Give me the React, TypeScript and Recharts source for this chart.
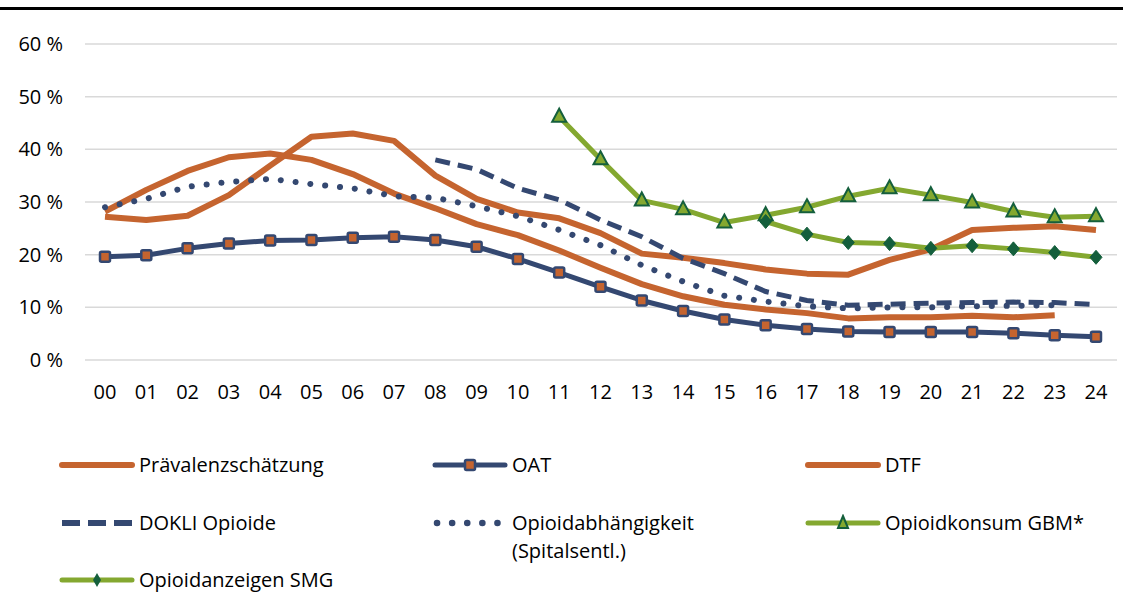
import React from 'react';
import { LineChart, Line, XAxis, YAxis, CartesianGrid } from 'recharts';

// Jahre (2000–2024)
const years = [
  '00', '01', '02', '03', '04', '05', '06', '07', '08', '09', '10', '11', '12',
  '13', '14', '15', '16', '17', '18', '19', '20', '21', '22', '23', '24',
];

// Anteile in %
const praevalenz = [
  28.2, 32.3, 35.9, 38.5, 39.2, 38.0, 35.3, 31.6, 28.8, 25.8, 23.7, 20.8, 17.5,
  14.4, 12.1, 10.5, 9.6, 8.9, 7.9, 8.1, 8.1, 8.4, 8.1, 8.5, null,
];
const oat = [
  19.6, 19.9, 21.2, 22.1, 22.7, 22.8, 23.2, 23.4, 22.8, 21.5, 19.2, 16.6, 13.9,
  11.3, 9.3, 7.7, 6.6, 5.9, 5.4, 5.3, 5.3, 5.3, 5.1, 4.7, 4.4,
];
const dtf = [
  27.2, 26.6, 27.4, 31.3, 36.9, 42.4, 43.0, 41.6, 35.0, 30.6, 28.0, 26.9, 24.1,
  20.2, 19.4, 18.4, 17.2, 16.4, 16.2, 19.0, 21.0, 24.7, 25.1, 25.4, 24.7,
];
const dokli = [
  null, null, null, null, null, null, null, null, 38.0, 36.2, 32.6, 30.4, 26.6,
  23.4, 19.3, 16.4, 13.0, 11.3, 10.4, 10.6, 10.8, 10.9, 11.0, 10.9, 10.5,
];
const abhaengigkeit = [
  29.0, 30.6, 32.9, 33.8, 34.4, 33.4, 32.6, 31.1, 30.8, 29.2, 27.3, 24.7, 21.8,
  18.0, 14.9, 12.2, 11.1, 10.2, 9.8, 10.0, 10.0, 10.2, 10.3, 10.4, null,
];
const gbm = [
  null, null, null, null, null, null, null, null, null, null, null, 46.2, 38.1,
  30.3, 28.6, 26.1, 27.5, 29.0, 31.1, 32.6, 31.3, 29.9, 28.2, 27.1, 27.3,
];
const smg = [
  null, null, null, null, null, null, null, null, null, null, null, null, null,
  null, null, null, 26.3, 23.9, 22.3, 22.1, 21.2, 21.7, 21.1, 20.4, 19.5,
];

const yTicks = [0, 10, 20, 30, 40, 50, 60];

const ORANGE = '#C5642F';
const NAVY = '#344871';
const GREEN = '#84A830';
const DKGREEN = '#145F3C';
const FONT = '"Open Sans", "Noto Sans", sans-serif';

const chartData = years.map((year, i) => ({
  year,
  praevalenz: praevalenz[i],
  oat: oat[i],
  dtf: dtf[i],
  dokli: dokli[i],
  abhaengigkeit: abhaengigkeit[i],
  gbm: gbm[i],
  smg: smg[i],
}));

// Marker
const SquareDot = (props: any) => {
  const { cx, cy, value, index } = props;
  if (cx == null || cy == null || value == null) return <g key={`sq-${index}`} />;
  return (
    <rect key={`sq-${index}`} x={cx - 5} y={cy - 5} width={10} height={10} rx={1.5}
      fill={ORANGE} stroke={NAVY} strokeWidth={2.5} />
  );
};

const TriangleDot = (props: any) => {
  const { cx, cy, value, index } = props;
  if (cx == null || cy == null || value == null) return <g key={`tr-${index}`} />;
  return (
    <polygon key={`tr-${index}`}
      points={`${cx},${cy - 8} ${cx + 7},${cy + 5} ${cx - 7},${cy + 5}`}
      fill={GREEN} stroke={DKGREEN} strokeWidth={2} strokeLinejoin="miter" />
  );
};

const DiamondDot = (props: any) => {
  const { cx, cy, value, index } = props;
  if (cx == null || cy == null || value == null) return <g key={`di-${index}`} />;
  return (
    <polygon key={`di-${index}`}
      points={`${cx},${cy - 7} ${cx + 6},${cy} ${cx},${cy + 7} ${cx - 6},${cy}`}
      fill={DKGREEN} stroke={DKGREEN} strokeWidth={1} />
  );
};

// Legenden-Symbole
const LegendIcon = ({ kind }: { kind: string }) => {
  const w = 76;
  const y = 9;
  let content: React.ReactNode = null;
  if (kind === 'orange') {
    content = <line x1={3} y1={y} x2={w - 3} y2={y} stroke={ORANGE} strokeWidth={6} strokeLinecap="round" />;
  } else if (kind === 'oat') {
    content = (
      <g>
        <line x1={3} y1={y} x2={w - 3} y2={y} stroke={NAVY} strokeWidth={5} strokeLinecap="round" />
        <rect x={w / 2 - 5} y={y - 5} width={10} height={10} rx={1.5} fill={ORANGE} stroke={NAVY} strokeWidth={2.5} />
      </g>
    );
  } else if (kind === 'dashed') {
    content = <line x1={3} y1={y} x2={w - 3} y2={y} stroke={NAVY} strokeWidth={6} strokeDasharray="18 8" />;
  } else if (kind === 'dotted') {
    content = <line x1={5} y1={y} x2={w - 3} y2={y} stroke={NAVY} strokeWidth={6.5} strokeLinecap="round" strokeDasharray="0.1 15" />;
  } else if (kind === 'gbm') {
    content = (
      <g>
        <line x1={3} y1={y} x2={w - 3} y2={y} stroke={GREEN} strokeWidth={5} strokeLinecap="round" />
        <polygon points={`${w / 2},${y - 7} ${w / 2 + 5},${y + 5} ${w / 2 - 5},${y + 5}`} fill={GREEN} stroke={DKGREEN} strokeWidth={2} />
      </g>
    );
  } else if (kind === 'smg') {
    content = (
      <g>
        <line x1={3} y1={y} x2={w - 3} y2={y} stroke={GREEN} strokeWidth={5} strokeLinecap="round" />
        <polygon points={`${w / 2},${y - 7} ${w / 2 + 4},${y} ${w / 2},${y + 7} ${w / 2 - 4},${y}`} fill={DKGREEN} />
      </g>
    );
  }
  return <svg width={w} height={18} style={{ display: 'block' }}>{content}</svg>;
};

const legendItems = [
  { label: ['Prävalenzschätzung'], kind: 'orange', x: 59, y: 465 },
  { label: ['OAT'], kind: 'oat', x: 432, y: 465 },
  { label: ['DTF'], kind: 'orange', x: 805, y: 465 },
  { label: ['DOKLI Opioide'], kind: 'dashed', x: 59, y: 523 },
  { label: ['Opioidabhängigkeit', '(Spitalsentl.)'], kind: 'dotted', x: 432, y: 523 },
  { label: ['Opioidkonsum GBM*'], kind: 'gbm', x: 805, y: 523 },
  { label: ['Opioidanzeigen SMG'], kind: 'smg', x: 59, y: 580 },
];

const App = () => {
  return (
    <div style={{ position: 'absolute', left: 0, top: 0, width: 1123, height: 594, background: '#fff', fontFamily: FONT }}>
      <div style={{ position: 'absolute', left: 0, top: 7, width: 1123, height: 3, background: '#000' }} />
      <LineChart width={1123} height={594} data={chartData}
        margin={{ top: 44, right: 6, bottom: 194, left: 0 }}>
        <CartesianGrid vertical={false} stroke="#D9D9D9" strokeWidth={1.5} />
        <XAxis dataKey="year" interval={0} axisLine={false} tickLine={false} tickSize={0} tickMargin={25}
          height={40} padding={{ left: 20, right: 21 }}
          tick={{ fill: '#000', fontSize: 20 }} />
        <YAxis domain={[0, 60]} ticks={yTicks} interval={0} width={85} axisLine={false} tickLine={false}
          tickSize={0} tickMargin={22} tickFormatter={(v: number) => `${v} %`}
          tick={{ fill: '#000', fontSize: 20 }} />
        <Line dataKey="praevalenz" stroke={ORANGE} strokeWidth={6} dot={false} activeDot={false}
          strokeLinejoin="round" isAnimationActive={false} />
        <Line dataKey="dtf" stroke={ORANGE} strokeWidth={6} dot={false} activeDot={false}
          strokeLinejoin="round" isAnimationActive={false} />
        <Line dataKey="dokli" stroke={NAVY} strokeWidth={5} strokeDasharray="15 8" dot={false} activeDot={false}
          isAnimationActive={false} />
        <Line dataKey="abhaengigkeit" stroke={NAVY} strokeWidth={6} strokeLinecap="round" strokeDasharray="0.1 14.8"
          dot={false} activeDot={false} isAnimationActive={false} />
        <Line dataKey="oat" stroke={NAVY} strokeWidth={5} dot={SquareDot} activeDot={false}
          strokeLinejoin="round" isAnimationActive={false} />
        <Line dataKey="gbm" stroke={GREEN} strokeWidth={5} dot={TriangleDot} activeDot={false}
          strokeLinejoin="round" isAnimationActive={false} />
        <Line dataKey="smg" stroke={GREEN} strokeWidth={5} dot={DiamondDot} activeDot={false}
          strokeLinejoin="round" isAnimationActive={false} />
      </LineChart>
      {legendItems.map((item) => (
        <div key={item.label[0]} style={{ position: 'absolute', left: item.x, top: item.y - 9, display: 'flex', alignItems: 'flex-start' }}>
          <LegendIcon kind={item.kind} />
          <div style={{ marginLeft: 4, fontSize: 20, lineHeight: '28px', marginTop: -5, color: '#000' }}>
            {item.label.map((l) => <div key={l}>{l}</div>)}
          </div>
        </div>
      ))}
    </div>
  );
};

export default App;
